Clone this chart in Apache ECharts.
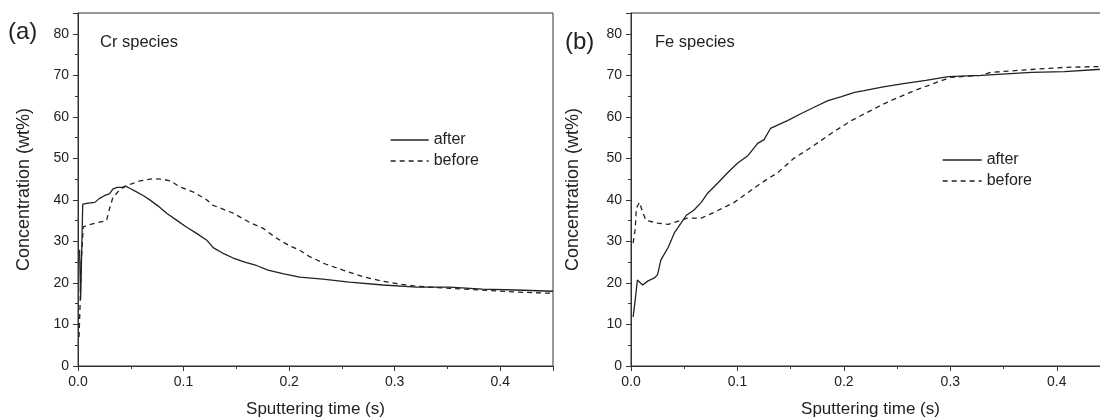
<!DOCTYPE html>
<html>
<head>
<meta charset="utf-8">
<script src="https://cdn.jsdelivr.net/npm/echarts@6/dist/echarts.min.js"></script>
<style>html,body{margin:0;padding:0;background:#fff}#c{width:1100px;height:419px}</style>
</head>
<body>
<div id="c"></div>
<script>
// ---- data ----
const seriesNames = ['after', 'before'];
const panelLabels = ['(a)', '(b)'];
const panelTitles = ['Cr species', 'Fe species'];
const xTitle = 'Sputtering time (s)';
const yTitle = 'Concentration (wt%)';

// Cr species (time s, wt%)
const crAfter = [[0.0015,28],[0.0025,16],[0.0045,39],[0.01,39.2],[0.016,39.4],[0.02,40.3],[0.025,41],[0.03,41.5],[0.033,42.6],[0.037,43],[0.042,43],[0.045,43.3],[0.049,42.8],[0.055,42],[0.062,41],[0.068,40],[0.076,38.5],[0.084,36.8],[0.094,35],[0.103,33.4],[0.112,32],[0.122,30.3],[0.128,28.5],[0.137,27.2],[0.147,26],[0.158,25],[0.169,24.2],[0.18,23.1],[0.195,22.2],[0.21,21.4],[0.232,20.9],[0.257,20.2],[0.289,19.5],[0.321,19.0],[0.352,19.0],[0.383,18.5],[0.415,18.3],[0.45,18.0]];
const crBefore = [[0.001,7],[0.002,15],[0.003,25],[0.005,33.5],[0.01,34],[0.018,34.5],[0.027,35],[0.03,38],[0.033,40.5],[0.038,42],[0.043,43],[0.05,43.8],[0.059,44.6],[0.071,45.1],[0.08,45],[0.088,44.5],[0.096,43.2],[0.11,41.8],[0.122,40],[0.128,38.7],[0.147,36.8],[0.163,34.5],[0.175,33.2],[0.188,30.8],[0.2,29],[0.21,27.9],[0.219,26.4],[0.235,24.5],[0.251,23.1],[0.27,21.5],[0.289,20.4],[0.305,19.7],[0.321,19.2],[0.352,18.7],[0.383,18.3],[0.415,17.8],[0.45,17.5]];
// Fe species (time s, wt%)
const feAfter = [[0.002,11.8],[0.004,16],[0.006,20.7],[0.011,19.5],[0.016,20.5],[0.022,21.2],[0.025,22],[0.028,25.5],[0.035,28.6],[0.041,32.2],[0.047,34.4],[0.052,36.3],[0.059,37.5],[0.066,39.4],[0.072,41.6],[0.082,44.2],[0.091,46.6],[0.1,48.8],[0.11,50.7],[0.119,53.6],[0.125,54.5],[0.131,57.2],[0.147,59.1],[0.16,60.8],[0.172,62.3],[0.185,63.9],[0.197,64.8],[0.21,65.9],[0.219,66.3],[0.237,67.2],[0.256,68],[0.277,68.8],[0.298,69.7],[0.329,70],[0.376,70.7],[0.407,70.9],[0.438,71.4],[0.45,71.5]];
const feBefore = [[0.002,29.6],[0.004,33],[0.005,38],[0.008,39.4],[0.011,37],[0.014,35.1],[0.025,34.4],[0.035,34.1],[0.047,35.1],[0.053,35.6],[0.066,35.6],[0.078,37],[0.097,39.4],[0.11,41.8],[0.122,44],[0.138,46.6],[0.153,50],[0.169,52.6],[0.188,56],[0.207,59.1],[0.238,63.2],[0.266,66.3],[0.3,69.5],[0.329,70],[0.338,70.7],[0.376,71.4],[0.407,71.9],[0.438,72.1],[0.45,72.2]];

const xTicks = [0, 0.1, 0.2, 0.3, 0.4];
const yTicks = [0, 10, 20, 30, 40, 50, 60, 70, 80];

// ---- chart ----
const FONT = '"Liberation Sans", Arial, sans-serif';
const INK = '#222';
const chart = echarts.init(document.getElementById('c'), null, {renderer: 'canvas'});

function xAxis(i, gap) {
  return {
    type: 'value', gridIndex: i, min: 0, max: 0.45, interval: 0.1,
    name: xTitle, nameLocation: 'middle', nameGap: gap,
    nameTextStyle: {fontFamily: FONT, fontSize: 17, color: INK},
    axisLine: {show: true, lineStyle: {color: '#333', width: 1}},
    axisTick: {show: true, length: 5, lineStyle: {color: '#333'}},
    minorTick: {show: true, splitNumber: 2, length: 3, lineStyle: {color: '#333'}},
    splitLine: {show: false},
    axisLabel: {margin: 9, fontFamily: FONT, fontSize: 14, color: INK, showMaxLabel: false,
      formatter: v => xTicks.some(t => Math.abs(t - v) < 1e-9) ? v.toFixed(1) : ''}
  };
}
function yAxis(i, gap) {
  return {
    type: 'value', gridIndex: i, min: 0, max: 85, interval: 10,
    name: yTitle, nameLocation: 'middle', nameGap: gap,
    nameTextStyle: {fontFamily: FONT, fontSize: 18, color: INK},
    axisLine: {show: true, lineStyle: {color: '#333', width: 1}},
    axisTick: {show: true, length: 5, lineStyle: {color: '#333'}},
    minorTick: {show: true, splitNumber: 2, length: 3, lineStyle: {color: '#333'}},
    splitLine: {show: false},
    axisLabel: {margin: 9, fontFamily: FONT, fontSize: 14, color: INK, showMaxLabel: false,
      formatter: v => yTicks.indexOf(v) >= 0 ? String(v) : ''}
  };
}
function line(name, data, i, dashed) {
  return {
    type: 'line', name: name, xAxisIndex: i, yAxisIndex: i, data: data,
    showSymbol: false, symbol: 'none', smooth: false, animation: false,
    lineStyle: {color: INK, width: 1.3, type: dashed ? [5, 4] : 'solid'},
    itemStyle: {color: INK}
  };
}
function legend(left, top, w) {
  return {
    orient: 'vertical', left: left, top: top, itemWidth: w, itemHeight: 14, itemGap: 5,
    data: seriesNames, selectedMode: false,
    itemStyle: {opacity: 0, borderWidth: 0},
    lineStyle: {width: 1.3},
    textStyle: {fontFamily: FONT, fontSize: 16, color: INK, padding: [0, 0, 0, 0]}
  };
}

const option = {
  backgroundColor: '#fff',
  animation: false,
  grid: [
    {left: 78, top: 13, width: 475, height: 353, show: true, borderColor: '#333', borderWidth: 1,
     backgroundColor: 'transparent', outerBoundsMode: 'none', containLabel: false},
    {left: 631, top: 13, width: 479, height: 353, show: true, borderColor: '#333', borderWidth: 1,
     backgroundColor: 'transparent', outerBoundsMode: 'none', containLabel: false}
  ],
  xAxis: [xAxis(0, 35), xAxis(1, 35)],
  yAxis: [yAxis(0, 45), yAxis(1, 49)],
  legend: [legend(385, 127, 38), legend(937, 147, 39)],
  graphic: [
    {type: 'text', left: 8, top: 20, style: {text: panelLabels[0], font: '24px ' + FONT, fill: INK}},
    {type: 'text', left: 100, top: 34, style: {text: panelTitles[0], font: '16.5px ' + FONT, fill: INK}},
    {type: 'text', left: 565, top: 30, style: {text: panelLabels[1], font: '24px ' + FONT, fill: INK}},
    {type: 'text', left: 655, top: 34, style: {text: panelTitles[1], font: '16.5px ' + FONT, fill: INK}}
  ],
  series: [
    line(seriesNames[0], crAfter, 0, false),
    line(seriesNames[1], crBefore, 0, true),
    line(seriesNames[0], feAfter, 1, false),
    line(seriesNames[1], feBefore, 1, true)
  ]
};
chart.setOption(option);
</script>
</body>
</html>
